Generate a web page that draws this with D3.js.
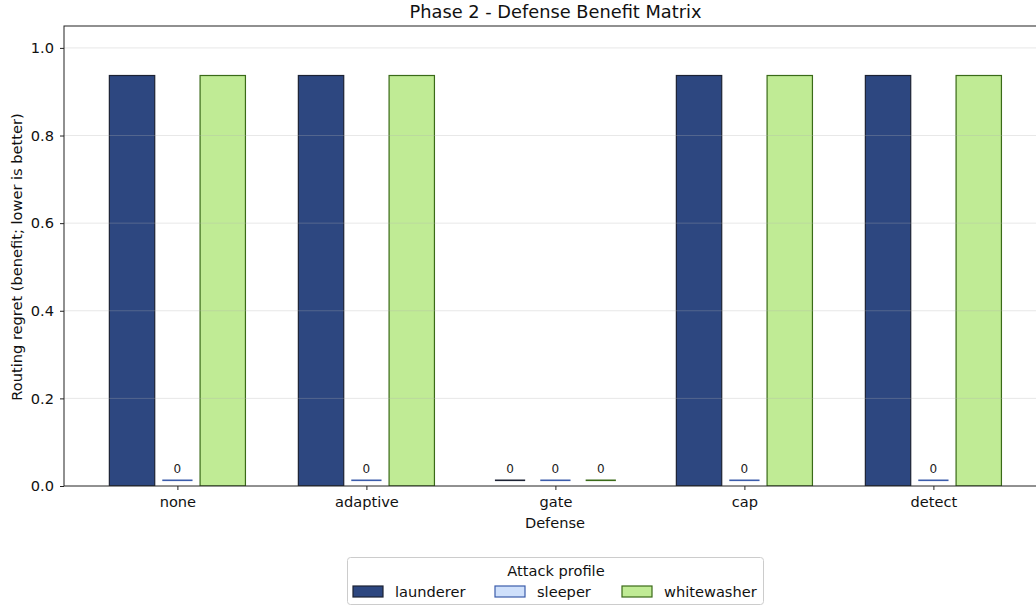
<!DOCTYPE html>
<html><head><meta charset="utf-8">
<script src="https://cdn.jsdelivr.net/npm/d3@7"></script>
<style>body{margin:0;background:#fff}svg{display:block;font-family:"DejaVu Sans",sans-serif}</style>
</head><body><svg id="c" width="1036" height="607"></svg>
<script>
const categories = ["none","adaptive","gate","cap","detect"];
const seriesNames = ["launderer","sleeper","whitewasher"];
const launderer = [0.937,0.937,0,0.937,0.937];
const sleeper = [0,0,0,0,0];
const whitewasher = [0.937,0.937,0,0.937,0.937];
const yTicks = [0,0.2,0.4,0.6,0.8,1.0];
const fills = ["#2d4780","#cfe0fb","#c0eb95"];
const strokes = ["#1c2233","#3b5cab","#3a6a18"];
const seriesVals = [launderer, sleeper, whitewasher];

const FS = 14.6;
const svg = d3.select("#c");
const L=64, T=26, B=486;
const x = d3.scaleLinear().domain([-0.6, 4.6]).range([L, L+5.2*189]);
const y = d3.scaleLinear().domain([0,1.05]).range([B,T]);
const bw = 0.24, offs=[-0.24,0,0.24];

svg.append("defs").append("clipPath").attr("id","pc").append("rect")
  .attr("x",L).attr("y",T).attr("width",x(4.6)-L).attr("height",B-T);
const g = svg.append("g").attr("clip-path","url(#pc)");

seriesVals.forEach((vals,si)=>{
  vals.forEach((v,ci)=>{
    const cx = x(ci+offs[si]);
    if(v>0){
      g.append("rect").attr("x",x(ci+offs[si]-bw/2)).attr("width",x(bw)-x(0))
        .attr("y",y(v)).attr("height",y(0)-y(v))
        .attr("fill",fills[si]).attr("stroke",strokes[si]).attr("stroke-width",1.2);
    } else {
      g.append("line").attr("x1",x(ci+offs[si]-0.08)).attr("x2",x(ci+offs[si]+0.08))
        .attr("y1",y(0.013)).attr("y2",y(0.013))
        .attr("stroke",si===1?"#3b5cab":strokes[si]).attr("stroke-width",1.6);
      svg.append("text").attr("x",cx).attr("y",y(0.013)-7).attr("text-anchor","middle")
        .attr("font-size",12).attr("fill","#222").text("0");
    }
  });
});

// grid on top
g.selectAll(".grid").data(yTicks.slice(1)).enter().append("line")
  .attr("x1",L).attr("x2",x(4.6)).attr("y1",d=>y(d)).attr("y2",d=>y(d))
  .attr("stroke","#b0b0b0").attr("stroke-opacity",0.3).attr("stroke-width",1);

// frame
svg.append("rect").attr("x",L).attr("y",T).attr("width",x(4.6)-L).attr("height",B-T)
  .attr("fill","none").attr("stroke","#222").attr("stroke-width",1);

// y axis
const ya = svg.append("g").attr("transform",`translate(${L},0)`)
  .call(d3.axisLeft(y).tickValues(yTicks).tickFormat(d3.format(".1f")).tickSize(4).tickPadding(6));
ya.select(".domain").remove();
ya.selectAll("text").attr("font-size",FS).attr("fill","#111").attr("font-family","DejaVu Sans");
ya.selectAll("line").attr("stroke","#222");

// x axis
const xa = svg.append("g").attr("transform",`translate(0,${B})`)
  .call(d3.axisBottom(x).tickValues(d3.range(categories.length)).tickFormat(i=>categories[i]).tickSize(4).tickPadding(7));
xa.select(".domain").remove();
xa.selectAll("text").attr("font-size",FS).attr("fill","#111").attr("font-family","DejaVu Sans");
xa.selectAll("line").attr("stroke","#222");

svg.append("text").attr("x",555).attr("y",528).attr("text-anchor","middle").attr("font-size",FS).attr("fill","#111").text("Defense");
svg.append("text").attr("transform","translate(22,257) rotate(-90)").attr("text-anchor","middle").attr("font-size",FS).attr("fill","#111").text("Routing regret (benefit; lower is better)");
svg.append("text").attr("x",555.5).attr("y",17.5).attr("text-anchor","middle").attr("font-size",17.8).attr("fill","#111").text("Phase 2 - Defense Benefit Matrix");

// legend
const lg = svg.append("g");
lg.append("rect").attr("x",347.5).attr("y",557.5).attr("width",416).attr("height",47).attr("rx",3)
  .attr("fill","#fff").attr("stroke","#ccc");
lg.append("text").attr("x",556).attr("y",576).attr("text-anchor","middle").attr("font-size",FS).attr("fill","#111").text("Attack profile");
const lx=[353,495,622];
seriesNames.forEach((n,i)=>{
  lg.append("rect").attr("x",lx[i]).attr("y",586).attr("width",30).attr("height",11)
    .attr("fill",fills[i]).attr("stroke",strokes[i]).attr("stroke-width",1.2);
  lg.append("text").attr("x",lx[i]+42).attr("y",597).attr("font-size",FS).attr("fill","#111").text(n);
});
</script></body></html>
